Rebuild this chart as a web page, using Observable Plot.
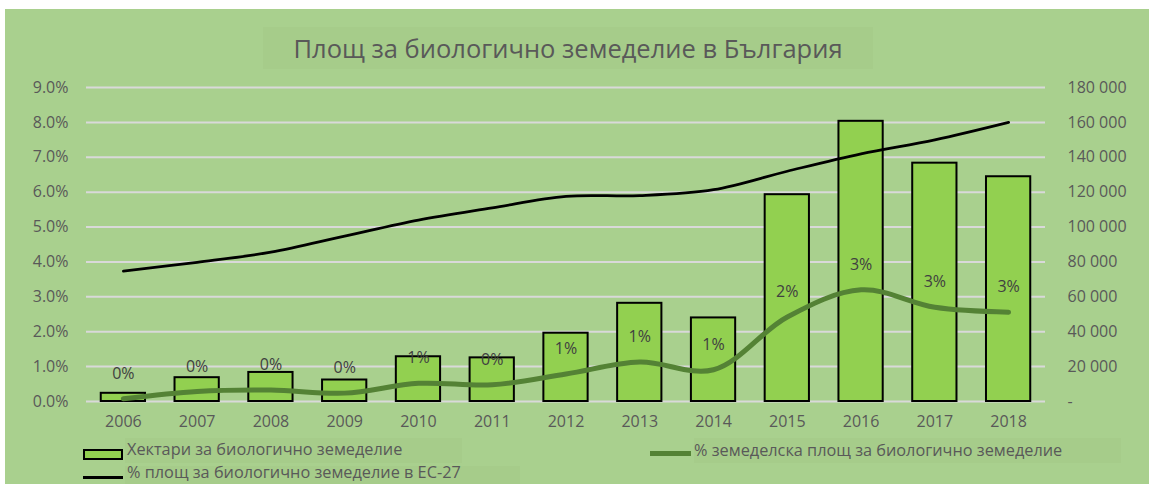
<!DOCTYPE html>
<html>
<head>
<meta charset="utf-8">
<script src="https://cdn.jsdelivr.net/npm/d3@7"></script>
<script src="https://cdn.jsdelivr.net/npm/@observablehq/plot@0.6"></script>
<style>
  body { margin: 0; background: #fff; font-family: "Open Sans", sans-serif; }
  #frame { position: absolute; left: 5px; top: 9px; width: 1144px; height: 475px; background: #A9D08E; }
  #title { position: absolute; left: 258px; top: 18px; width: 610px; height: 42px; background: #A6CC8A;
           color: #595959; font-size: 25.5px; line-height: 42px; text-align: center; }
  #chart { position: absolute; left: -5px; top: 66px; }
  .lg { position: absolute; color: #595959; font-size: 16.3px; line-height: 20px; white-space: nowrap; }
  .lgbox { position: absolute; background: #A6CC8A; }
  .sw { position: absolute; }
</style>
</head>
<body>
<div id="frame">
  <div id="title">Площ за биологично земеделие в България</div>
  <div id="chart"></div>
  <div class="lgbox" style="left:120px;top:429px;width:337px;height:25px"></div>
  <div class="lgbox" style="left:689px;top:429px;width:427px;height:25px"></div>
  <div class="lgbox" style="left:120px;top:457px;width:395px;height:18px"></div>
  <div class="sw" style="left:78px;top:440px;width:36px;height:7px;background:#92D050;border:2px solid #000"></div>
  <div class="lg" style="left:122px;top:430px">Хектари за биологично земеделие</div>
  <div class="sw" style="left:645px;top:442px;width:41px;height:5px;background:#548235"></div>
  <div class="lg" style="left:689px;top:431px">% земеделска площ за биологично земеделие</div>
  <div class="sw" style="left:78px;top:467px;width:40px;height:3px;background:#000"></div>
  <div class="lg" style="left:122px;top:454px;line-height:18px">% площ за биологично земеделие в ЕС-27</div>
</div>
<script>
const years = ["2006", "2007", "2008", "2009", "2010", "2011", "2012", "2013", "2014", "2015", "2016", "2017", "2018"];
// хектари (дясна ос)
const hectares = [4700, 13650, 16660, 12320, 25650, 25020, 39140, 56290, 47910, 118550, 160620, 136620, 128840];
// % земеделска площ в България (лява ос)
const shareBg = [0.08, 0.29, 0.33, 0.24, 0.52, 0.48, 0.79, 1.13, 0.91, 2.42, 3.2, 2.7, 2.56];
// % площ в ЕС-27 (лява ос)
const shareEu = [3.74, 3.99, 4.28, 4.74, 5.2, 5.55, 5.88, 5.9, 6.07, 6.6, 7.1, 7.5, 8.0];

const leftTicks = [0, 1, 2, 3, 4, 5, 6, 7, 8, 9];
const rightTicks = [0, 20000, 40000, 60000, 80000, 100000, 120000, 140000, 160000, 180000];

// дясната ос се нанася върху лявата скала
const haMax = 180000, pctMax = 9;
const toPct = v => v / haMax * pctMax;
const fmtHa = v => v === 0 ? "-" : d3.format(",")(v).replace(/,/g, " ");

const rows = years.map((year, i) => ({year, ha: hectares[i], bg: shareBg[i], eu: shareEu[i]}));

const chart = Plot.plot({
  width: 1149,
  height: 362,
  marginTop: 12,
  marginBottom: 36,
  marginLeft: 86,
  marginRight: 104,
  style: {background: "transparent", fontFamily: "'Open Sans', sans-serif", fontSize: "16px", color: "#595959"},
  x: {domain: years, paddingInner: 0.4, paddingOuter: 0.2, round: false, label: null},
  y: {domain: [0, 9], label: null},
  marks: [
    Plot.gridY(leftTicks, {stroke: "#D9D9D9", strokeOpacity: 1, strokeWidth: 2}),
    Plot.axisY(leftTicks, {tickSize: 0, tickPadding: 18, tickFormat: d => d.toFixed(1) + "%", label: null}),
    Plot.axisY(rightTicks.map(toPct), {anchor: "right", tickSize: 0, tickPadding: 22, textAnchor: "start",
      tickFormat: d => fmtHa(Math.round(d / pctMax * haMax)), label: null}),
    Plot.axisX({tickSize: 0, tickPadding: 14, label: null}),
    Plot.barY(rows, {x: "year", y: d => toPct(d.ha), fill: "#92D050", stroke: "#000", strokeWidth: 2}),
    Plot.line(rows, {x: "year", y: "bg", stroke: "#548235", strokeWidth: 5, curve: "catmull-rom"}),
    Plot.line(rows, {x: "year", y: "eu", stroke: "#000", strokeWidth: 2.75, curve: "catmull-rom"}),
    Plot.text(rows, {x: "year", y: "bg", text: d => Math.round(d.bg) + "%", dy: -25, fill: "#404040", fontSize: 16})
  ]
});

d3.select("#chart").append(() => chart);
</script>
</body>
</html>
